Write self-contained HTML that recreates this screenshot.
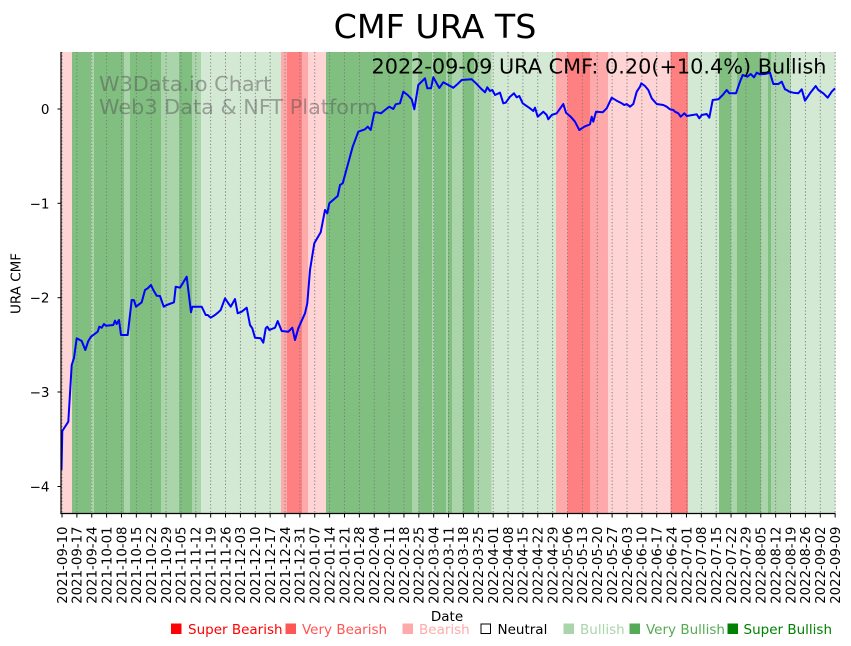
<!DOCTYPE html>
<html><head><meta charset="utf-8"><style>
html,body{margin:0;padding:0;background:#fff;}
svg{display:block;font-family:"DejaVu Sans","Liberation Sans",sans-serif;}
</style></head><body>
<svg width="851" height="646" viewBox="0 0 851 646" xmlns="http://www.w3.org/2000/svg">
<rect width="851" height="646" fill="#fff"/>
<!-- bands -->
<g shape-rendering="crispEdges">
<rect x="61" y="52" width="11" height="461.5" fill="#ffd4d4"/>
<rect x="72" y="52" width="19" height="461.5" fill="#80bf80"/>
<rect x="91" y="52" width="3" height="461.5" fill="#aad4aa"/>
<rect x="94" y="52" width="30" height="461.5" fill="#80bf80"/>
<rect x="124" y="52" width="6" height="461.5" fill="#aad4aa"/>
<rect x="130" y="52" width="31" height="461.5" fill="#80bf80"/>
<rect x="161" y="52" width="18" height="461.5" fill="#aad4aa"/>
<rect x="179" y="52" width="13" height="461.5" fill="#80bf80"/>
<rect x="192" y="52" width="9" height="461.5" fill="#aad4aa"/>
<rect x="201" y="52" width="80" height="461.5" fill="#d4e9d4"/>
<rect x="281" y="52" width="6" height="461.5" fill="#ffaaaa"/>
<rect x="287" y="52" width="15" height="461.5" fill="#ff8080"/>
<rect x="302" y="52" width="6" height="461.5" fill="#ffaaaa"/>
<rect x="308" y="52" width="18" height="461.5" fill="#ffd4d4"/>
<rect x="326" y="52" width="86" height="461.5" fill="#80bf80"/>
<rect x="412" y="52" width="6.5" height="461.5" fill="#aad4aa"/>
<rect x="418.5" y="52" width="13.5" height="461.5" fill="#80bf80"/>
<rect x="432" y="52" width="2" height="461.5" fill="#aad4aa"/>
<rect x="434" y="52" width="12" height="461.5" fill="#80bf80"/>
<rect x="446" y="52" width="2" height="461.5" fill="#aad4aa"/>
<rect x="448" y="52" width="4" height="461.5" fill="#80bf80"/>
<rect x="452" y="52" width="10.5" height="461.5" fill="#aad4aa"/>
<rect x="462.5" y="52" width="11.5" height="461.5" fill="#80bf80"/>
<rect x="474" y="52" width="17.7" height="461.5" fill="#aad4aa"/>
<rect x="491.7" y="52" width="64.3" height="461.5" fill="#d4e9d4"/>
<rect x="556" y="52" width="11.5" height="461.5" fill="#ffaaaa"/>
<rect x="567.5" y="52" width="22.5" height="461.5" fill="#ff8080"/>
<rect x="590" y="52" width="18" height="461.5" fill="#ffaaaa"/>
<rect x="608" y="52" width="62.5" height="461.5" fill="#ffd4d4"/>
<rect x="670.5" y="52" width="17.5" height="461.5" fill="#ff8080"/>
<rect x="688" y="52" width="31" height="461.5" fill="#d4e9d4"/>
<rect x="719" y="52" width="12" height="461.5" fill="#80bf80"/>
<rect x="731" y="52" width="6" height="461.5" fill="#aad4aa"/>
<rect x="737" y="52" width="24" height="461.5" fill="#80bf80"/>
<rect x="761" y="52" width="7" height="461.5" fill="#aad4aa"/>
<rect x="768" y="52" width="3" height="461.5" fill="#80bf80"/>
<rect x="771" y="52" width="20" height="461.5" fill="#aad4aa"/>
<rect x="791" y="52" width="44.3" height="461.5" fill="#d4e9d4"/>
</g>
<!-- grid -->
<g id="grid" stroke="#777" stroke-width="0.9" stroke-dasharray="1.2,2.2"></g>
<!-- watermark -->
<g font-size="20.8" fill="#555" fill-opacity="0.5">
<text x="99" y="91">W3Data.io Chart</text>
<text x="99" y="114">Web3 Data &amp; NFT Platform</text>
</g>
<!-- line -->
<polyline fill="none" stroke="#0000ff" stroke-width="2" stroke-linejoin="round" points="61.5,470 62.3,431 68.3,421.7 71.7,365 74,358 76.7,338.3 81.7,341 85.3,350 88.3,341 91,336.7 97.7,331.7 99.3,326.7 101.7,327.7 104,324 106,325.7 113.3,325 115,320.7 116.7,324 119,320 121,335 127.7,335 131.7,300 134,300.3 136,306.7 141.7,302.3 145,290 147.7,288.3 151,285 153.3,290 156.7,295.7 160,296 163.7,306.7 166.7,305 174,302.3 175.7,286.7 180,287.7 182.7,283.3 186.7,276.7 191,312.3 192.3,306.7 201.7,306.7 205.7,315 207.7,315 210.7,317.7 215,315 218.3,312.3 220.7,310 225,298.3 227.7,302.3 230.7,306.7 235,299 237.7,313.3 241.7,311.7 246.7,307.7 250,325 252.3,328.3 255,337.7 260.7,338.3 263.3,342.7 265.7,328.3 267.3,326.7 269.3,330 275,327.7 277.7,321 281.7,331 288.3,331.7 292.3,327.7 295,340 298.3,328.3 305,313.3 307.3,303.3 310,270 314.3,243.3 320.7,232.3 325,210 327.3,213.3 329.3,203.3 337.7,196 340,185 342.7,183.3 347.7,165 352.7,146.7 358.3,131.7 365,129.3 367.7,126.7 370.7,130 374.3,112.7 376.7,112.3 381,113.3 385,110 389.3,106.7 393.3,109 395.7,104.3 400,103.3 403.3,91.7 407.7,95 411.7,99.3 414.3,109.3 418.3,85 425,78.3 427.3,88.3 431,88.3 433.3,77.3 439.3,88 443.3,82.3 448.3,85 453.3,87.7 457.3,84.3 461.7,80 471.7,79.3 476,83.3 481.7,89.3 485,92.3 487.3,87.3 490,91 492.3,90 495,95 500,92.7 503.3,103.3 505.7,102.7 510,96.7 514,93.3 516.7,97.3 519.3,96 522.7,103.3 530,108.3 533.3,111 535,107.7 537.7,116.7 543.3,111.7 546.7,115 548.3,119.3 551.7,115 556.7,113.3 563.3,104 566,112.7 570.7,116.7 575,121.7 579.3,130 584.3,126.7 590,124.3 591.7,116.7 593.3,121.7 596,111.7 602.7,112.3 606.7,108.3 611.7,97.7 616.7,100.7 621.7,103.3 624.3,105 626.7,104 630,106.7 633.3,104 636.7,91.7 640,86.7 641.3,83.3 645,86 648.3,90 651.7,98.3 656.7,104 663.3,105 666.7,106.7 670,109.3 673.3,110 675,111.7 678.3,113.3 680.7,116.7 684.3,113.3 686.7,116 696.7,114.3 699.3,118.3 701.7,115 706.7,114 709.3,117.7 712.7,100 718.3,99.3 722.7,95 726.7,90 729.3,93.3 736,93.3 740,81.7 742.7,75 747.3,76.7 750.7,74 754,77.3 756.7,72.7 760,74.3 765,74 770,72.7 773.3,84 778.3,84 781.7,81.7 785,89.3 786.7,90 789.3,91.7 793.3,92.7 798.3,93.3 801.7,89.3 805,100.7 810,93.3 815.7,86 818.3,90 823.3,93.3 827.7,97.7 831.7,91.7 835,88.3"/>
<!-- spines -->
<line x1="61" y1="52" x2="61" y2="514" stroke="#000" stroke-width="1.2"/>
<line x1="60.4" y1="513.5" x2="835.5" y2="513.5" stroke="#000" stroke-width="1.2"/>
<!-- y ticks -->
<g stroke="#000" stroke-width="1">
<line x1="57.5" y1="109" x2="61" y2="109"/>
<line x1="57.5" y1="203.3" x2="61" y2="203.3"/>
<line x1="57.5" y1="297.7" x2="61" y2="297.7"/>
<line x1="57.5" y1="392" x2="61" y2="392"/>
<line x1="57.5" y1="486.5" x2="61" y2="486.5"/>
</g>
<g font-size="13.5" fill="#000" text-anchor="end">
<text x="49.5" y="114">0</text>
<text x="49.5" y="208.3">−1</text>
<text x="49.5" y="302.7">−2</text>
<text x="49.5" y="397">−3</text>
<text x="49.5" y="491.5">−4</text>
</g>
<text transform="translate(20.5,283.5) rotate(-90)" font-size="13.5" text-anchor="middle">URA CMF</text>
<!-- x ticks and labels -->
<g id="xt" stroke="#000" stroke-width="1"></g>
<g id="xl" font-size="13.3" fill="#000"></g>
<text x="447" y="621" font-size="13.5" text-anchor="middle">Date</text>
<!-- title -->
<text x="435" y="38" font-size="33.3" text-anchor="middle">CMF URA TS</text>
<text x="826.5" y="73.5" font-size="20.8" text-anchor="end">2022-09-09 URA CMF: 0.20(+10.4%) Bullish</text>
<!-- legend -->
<g font-size="13.5">
<rect x="171" y="623.5" width="10.5" height="10.5" fill="#ff0000"/>
<text x="188" y="634" fill="#ff0000">Super Bearish</text>
<rect x="285.5" y="623.5" width="10.5" height="10.5" fill="#ff5555"/>
<text x="302" y="634" fill="#ff5555">Very Bearish</text>
<rect x="402.5" y="623.5" width="10.5" height="10.5" fill="#ffaaaa"/>
<text x="419" y="634" fill="#ffaaaa">Bearish</text>
<rect x="481" y="624" width="9.5" height="9.5" fill="none" stroke="#000" stroke-width="1"/>
<text x="497.5" y="634" fill="#000">Neutral</text>
<rect x="563.5" y="623.5" width="10.5" height="10.5" fill="#aad4aa"/>
<text x="580" y="634" fill="#aad4aa">Bullish</text>
<rect x="629.5" y="623.5" width="10.5" height="10.5" fill="#55aa55"/>
<text x="646" y="634" fill="#55aa55">Very Bullish</text>
<rect x="727.5" y="623.5" width="10.5" height="10.5" fill="#008000"/>
<text x="743.5" y="634" fill="#008000">Super Bullish</text>
</g>
<script>
(function(){
var ns="http://www.w3.org/2000/svg";
var grid=document.getElementById("grid"),xt=document.getElementById("xt"),xl=document.getElementById("xl");
var start=Date.UTC(2021,8,10);
for(var i=0;i<=52;i++){
 var x=62+i*14.868;
 var g=document.createElementNS(ns,"line");
 g.setAttribute("x1",x);g.setAttribute("x2",x);g.setAttribute("y1",52);g.setAttribute("y2",513);
 grid.appendChild(g);
 var t=document.createElementNS(ns,"line");
 t.setAttribute("x1",x);t.setAttribute("x2",x);t.setAttribute("y1",513.5);t.setAttribute("y2",517.5);
 xt.appendChild(t);
 var d=new Date(start+i*7*86400000);
 var s=d.getUTCFullYear()+"-"+("0"+(d.getUTCMonth()+1)).slice(-2)+"-"+("0"+d.getUTCDate()).slice(-2);
 var tx=document.createElementNS(ns,"text");
 tx.setAttribute("transform","translate("+(x+4.8)+",526.5) rotate(-90)");
 tx.setAttribute("text-anchor","end");
 tx.textContent=s;
 xl.appendChild(tx);
}
})();
</script>
</svg>
</body></html>
